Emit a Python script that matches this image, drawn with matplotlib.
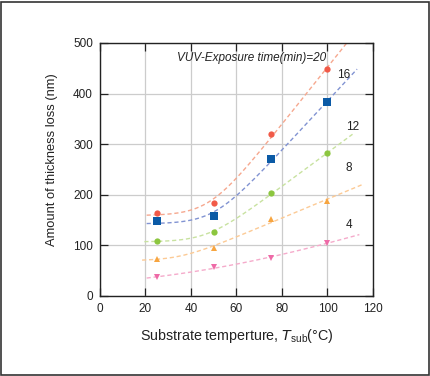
import numpy as np
import matplotlib
matplotlib.use("Agg")
import matplotlib.pyplot as plt
from matplotlib.patches import Rectangle

plt.rcParams['font.family'] = ['Liberation Sans', 'DejaVu Sans']

# data
temps = [25, 50, 75, 100]
exposure_times = [20, 16, 12, 8, 4]
loss_20 = [164, 184, 320, 449]
loss_16 = [148, 158, 271, 383]
loss_12 = [109, 126, 203, 282]
loss_8 = [73, 95, 152, 188]
loss_4 = [37, 57, 75, 105]

xticks = [0, 20, 40, 60, 80, 100, 120]
yticks = [0, 100, 200, 300, 400, 500]

series = [
    (loss_20, 'o', 4.5, '#f15a48', '#f6a88f', (20.5, 109)),
    (loss_16, 's', 6.0, '#0b5aa6', '#8193d2', (20.5, 113)),
    (loss_12, 'o', 4.5, '#8cc63f', '#c8e2a0', (19.5, 111)),
    (loss_8, '^', 5.0, '#f7a540', '#fcca95', (18.5, 115)),
    (loss_4, 'v', 5.0, '#ee6aa7', '#f5abcb', (20.5, 114)),
]


def softplus_fit(x, y):
    # least squares fit of y = a + b*w*log(1+exp((x-x0)/w)) over a grid of x0, w
    x = np.asarray(x, float)
    y = np.asarray(y, float)
    best = None
    for x0 in np.linspace(0, 110, 111):
        for w in np.linspace(7, 40, 34):
            basis = w * np.logaddexp(0, (x - x0) / w)
            A = np.column_stack([np.ones_like(x), basis])
            coef, *_ = np.linalg.lstsq(A, y, rcond=None)
            err = np.sum((A @ coef - y) ** 2)
            if best is None or err < best[0]:
                best = (err, x0, w, coef)
    _, x0, w, (a, b) = best
    return lambda t: a + b * w * np.logaddexp(0, (t - x0) / w)


fig = plt.figure(figsize=(4.31, 3.76), dpi=100)
ax = fig.add_axes([0.232, 0.2128, 0.6334, 0.6729])

for vals, marker, ms, mcolor, lcolor, (x_start, x_end) in series:
    f = softplus_fit(temps, vals)
    xs = np.linspace(x_start, x_end, 200)
    ax.plot(xs, f(xs), linestyle=(0, (3, 2)), color=lcolor, linewidth=1.0, zorder=2)
    ax.plot(temps, vals, linestyle='none', marker=marker, markersize=ms,
            color=mcolor, markeredgewidth=0, zorder=3)

ax.set_xlim(0, 120)
ax.set_ylim(0, 500)
ax.set_xticks(xticks)
ax.set_yticks(yticks)
ax.grid(True, color='#cccccc', linewidth=0.9)
ax.set_axisbelow(True)
ax.tick_params(direction='in', length=5.5, width=0.9, top=True, right=True,
               labelsize=8.5, colors='#222222', pad=5)
for s in ax.spines.values():
    s.set_linewidth(1.0)
    s.set_color('#222222')

ax.set_xlabel(r'Substrate temperture, $T_\mathregular{sub}$(°C)', fontsize=10.3,
              color='#222222', labelpad=9)
ax.set_ylabel('Amount of thickness loss (nm)', fontsize=9.3, color='#222222')
ax.yaxis.set_label_coords(-0.154, 0.5375)

ax.text(99.5, 470, f'VUV-Exposure time(min)={exposure_times[0]}', style='italic',
        fontsize=8.5, ha='right', va='center', color='#222222')
label_pos = [(104, 437), (108, 334), (108, 253), (108, 140)]
for t, (lx, ly) in zip(exposure_times[1:], label_pos):
    ax.text(lx, ly, str(t), fontsize=8.5, ha='left', va='center', color='#222222')

fig.patches.append(Rectangle((0.002, 0.003), 0.994, 0.993, transform=fig.transFigure,
                             fill=False, edgecolor='#333333', linewidth=1.2))

fig.savefig('out.png', dpi=100)
